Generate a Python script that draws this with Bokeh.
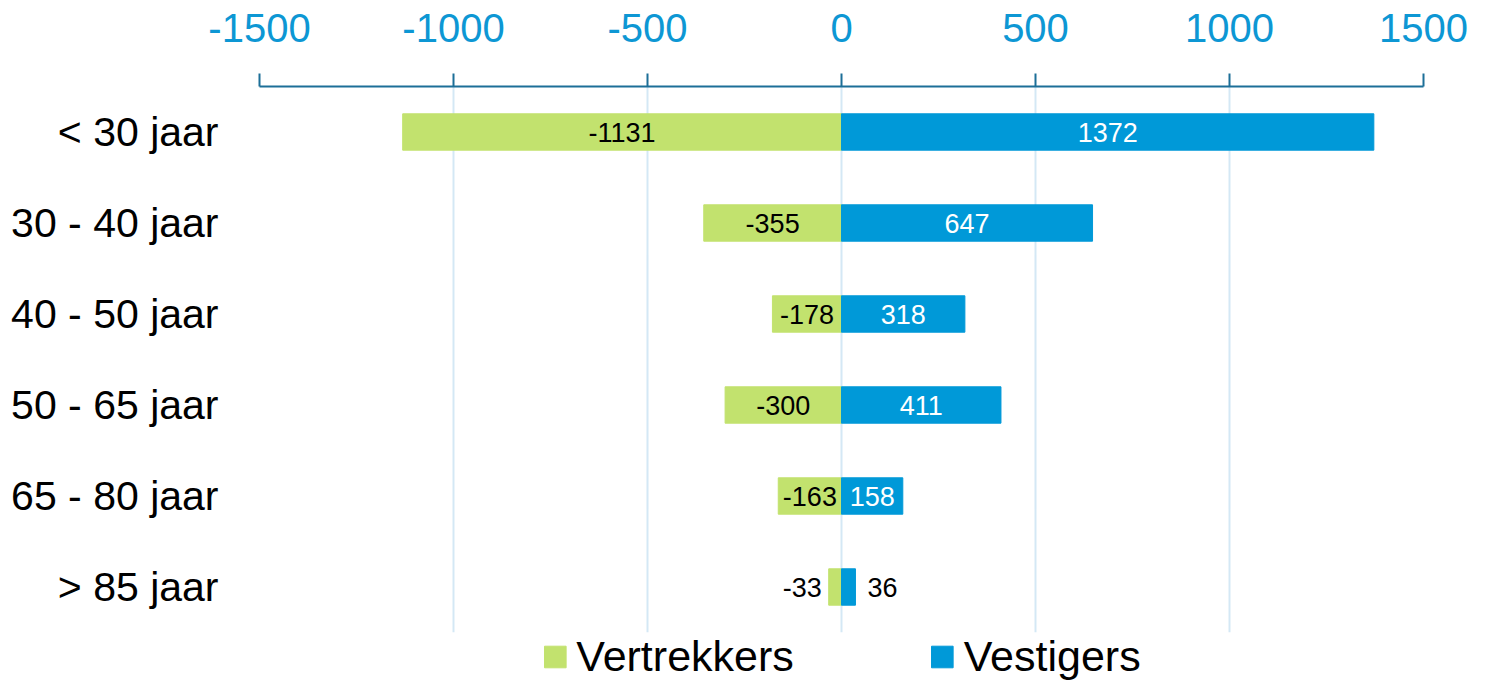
from bokeh.plotting import figure
from bokeh.models import ColumnDataSource, FactorRange, FixedTicker, Legend, LegendItem
from bokeh.core.properties import value
from bokeh.embed import file_html
from bokeh.resources import INLINE

# leeftijdsgroepen en aantallen
leeftijden = ["< 30 jaar", "30 - 40 jaar", "40 - 50 jaar", "50 - 65 jaar", "65 - 80 jaar", "> 85 jaar"]
vertrekkers = [-1131, -355, -178, -300, -163, -33]
vestigers = [1372, 647, 318, 411, 158, 36]
x_ticks = [-1500, -1000, -500, 0, 500, 1000, 1500]

GROEN = "#c2e26e"
BLAUW = "#0099d8"
FONT = "Liberation Sans"

p = figure(frame_width=1164, frame_height=546,
           y_range=FactorRange(factors=list(reversed(leeftijden))),
           x_range=(-1500, 1500), x_axis_location="above",
           output_backend="svg", toolbar_location=None,
           min_border_left=259, min_border_right=67, min_border_top=86, min_border_bottom=0)
p.outline_line_color = None

bron = ColumnDataSource(dict(cat=leeftijden, vert=vertrekkers, vest=vestigers))
r_vert = p.hbar(y="cat", left=0, right="vert", height=0.4, color=GROEN, source=bron)
r_vest = p.hbar(y="cat", left=0, right="vest", height=0.4, color=BLAUW, source=bron)

# labels: in het midden van de balk, of ernaast als de balk te klein is
def labels(waarden, kleur_binnen, kant):
    binnen = [(v / 2, c, str(v)) for v, c in zip(waarden, leeftijden) if abs(v) >= 100]
    buiten = [(v, c, str(v)) for v, c in zip(waarden, leeftijden) if abs(v) < 100]
    if binnen:
        p.text(x=[b[0] for b in binnen], y=[b[1] for b in binnen], text=[b[2] for b in binnen],
               text_align="center", text_baseline="middle", text_color=kleur_binnen,
               text_font=value(FONT), text_font_size="27px")
    if buiten:
        p.text(x=[b[0] for b in buiten], y=[b[1] for b in buiten], text=[b[2] for b in buiten],
               text_align="right" if kant < 0 else "left", text_baseline="middle",
               x_offset=-7 if kant < 0 else 12, text_color="black",
               text_font=value(FONT), text_font_size="27px")

labels(vertrekkers, "black", -1)
labels(vestigers, "white", 1)

xa = p.xaxis[0]
xa.ticker = FixedTicker(ticks=x_ticks)
xa.major_label_overrides = {t: str(t) for t in x_ticks}
xa.axis_line_color = "#1c6f98"
xa.axis_line_width = 2
xa.major_tick_line_color = "#1c6f98"
xa.major_tick_line_width = 2
xa.major_tick_out = 13
xa.major_tick_in = 0
xa.minor_tick_line_color = None
xa.major_label_standoff = 32
xa.major_label_text_color = "#0d97d4"
xa.major_label_text_font = FONT
xa.major_label_text_font_size = "40px"

ya = p.yaxis[0]
ya.axis_line_color = None
ya.major_tick_line_color = None
ya.minor_tick_line_color = None
ya.major_label_standoff = 35
ya.major_label_text_color = "black"
ya.major_label_text_font = FONT
ya.major_label_text_font_size = "41px"

p.xgrid.grid_line_color = "#d4e8f5"
p.xgrid.grid_line_width = 2
p.ygrid.grid_line_color = None

legend = Legend(items=[LegendItem(label="Vertrekkers", renderers=[r_vert]),
                       LegendItem(label="Vestigers", renderers=[r_vest])],
                orientation="horizontal", location="top_center",
                label_text_font=FONT, label_text_font_size="43px", label_text_color="black",
                glyph_width=27, glyph_height=27, label_standoff=8, spacing=135,
                padding=2, margin=0, border_line_color=None, background_fill_alpha=0)
p.add_layout(legend, "below")

open("out.html", "w").write(file_html(p, INLINE))
